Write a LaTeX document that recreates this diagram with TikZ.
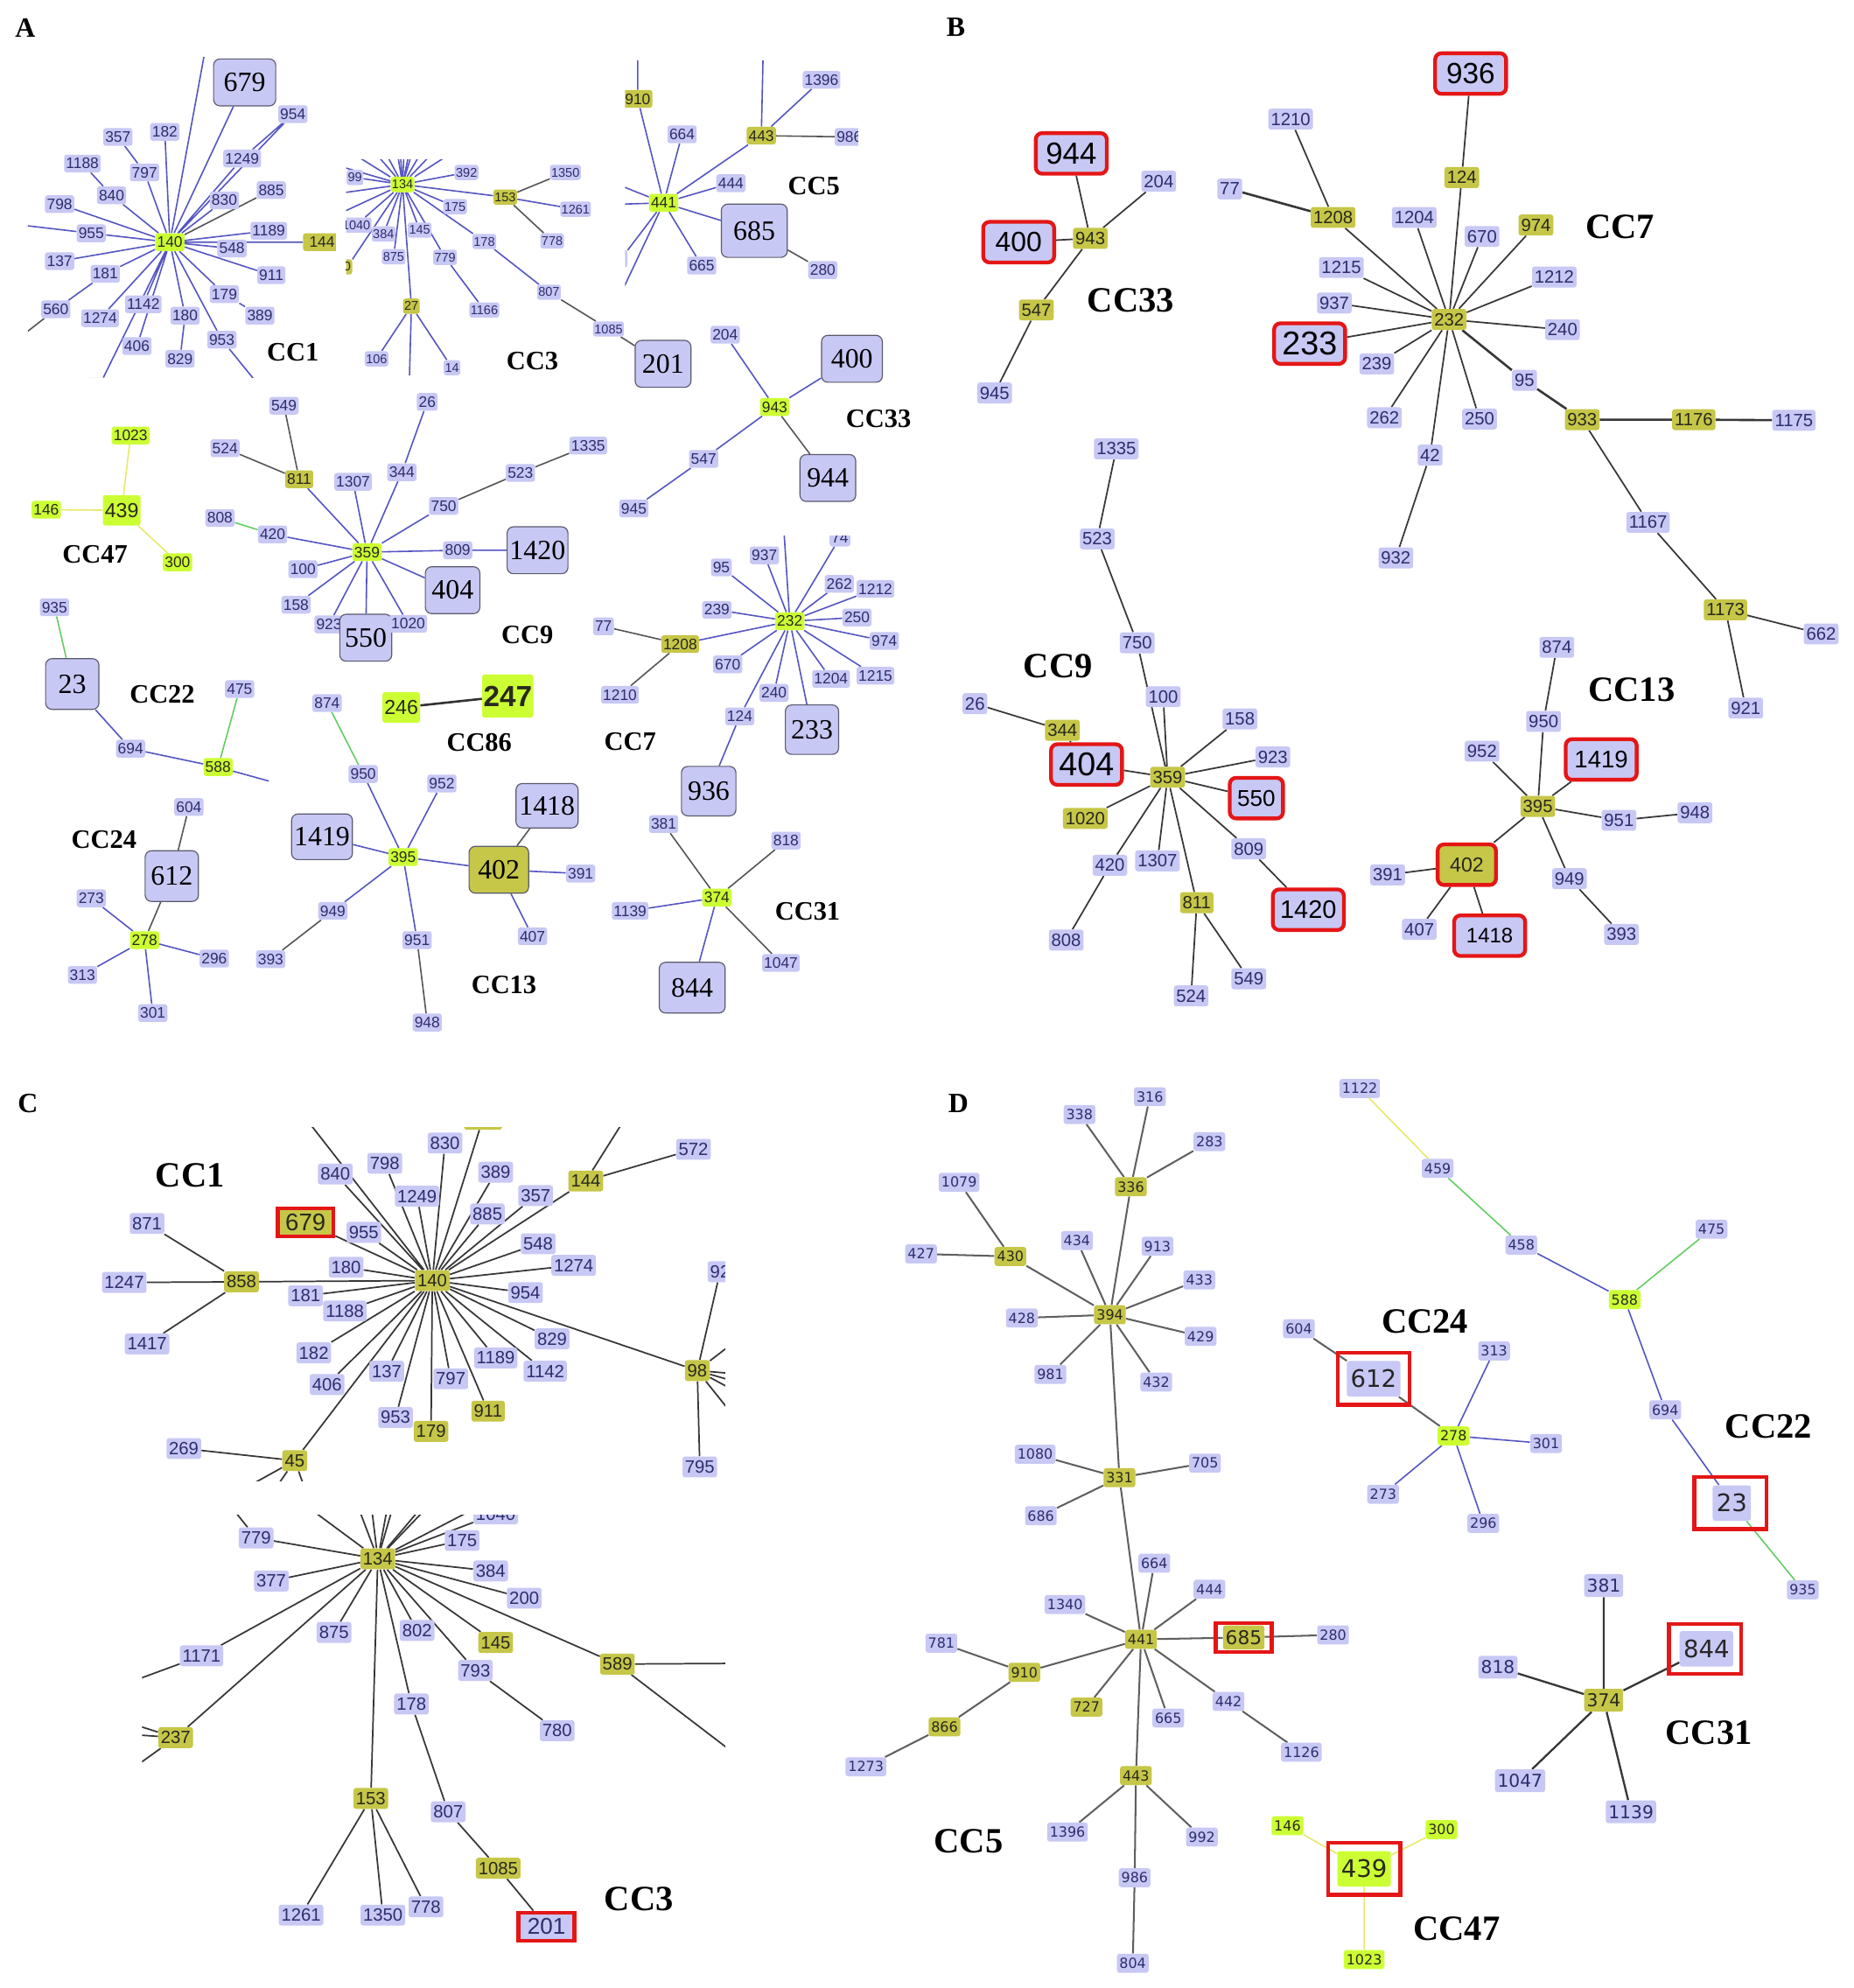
\documentclass[tikz,border=0pt]{standalone}
\usepackage{fontspec}
\setmainfont{Liberation Serif}
\newfontfamily\sansf{Liberation Sans}
\newfontfamily\dejf{DejaVu Sans}
\newcommand\fsz[1]{\fontsize{#1}{#1}\selectfont}
\definecolor{lav}{RGB}{200,200,245}
\definecolor{olv}{RGB}{198,198,72}
\definecolor{lmg}{RGB}{204,255,51}
\definecolor{navyt}{RGB}{45,45,110}
\definecolor{otext}{RGB}{40,40,30}
\definecolor{bgray}{RGB}{90,90,110}
\definecolor{redc}{RGB}{228,22,22}
\definecolor{eblue}{RGB}{85,85,195}
\definecolor{egray}{RGB}{85,85,85}
\definecolor{egreen}{RGB}{100,205,100}
\definecolor{eyellow}{RGB}{232,232,110}
\definecolor{kgray}{RGB}{55,55,55}
\definecolor{dgray}{RGB}{95,95,95}
\pgfdeclarelayer{bgfill}
\pgfdeclarelayer{edges}
\pgfsetlayers{bgfill,edges,main}
\tikzset{
 nd/.style={rounded corners=2pt, inner xsep=1.5pt, inner ysep=1pt},
 la/.style={nd, fill=lav, text=navyt, font=\sansf\fsz{12}, minimum height=14pt},
 ya/.style={la, fill=olv, text=otext},
 ga/.style={la, fill=lmg, text=otext},
 l3/.style={nd, fill=lav, text=navyt, font=\sansf\fsz{10}, minimum height=12pt, inner xsep=1pt},
 y3/.style={l3, fill=olv, text=otext},
 g3/.style={l3, fill=lmg, text=otext},
 bigA/.style={rounded corners=5pt, fill=lav, draw=bgray, line width=0.8pt, font=\fsz{22}, text=black, minimum width=44pt, minimum height=37pt, inner sep=2pt},
 lb/.style={nd, fill=lav, text=navyt, font=\sansf\fsz{14}, minimum height=16.5pt, inner xsep=2pt},
 yb/.style={lb, fill=olv, text=otext},
 rb/.style={lb, draw=redc, line width=3pt, rounded corners=5pt, minimum width=56pt, minimum height=32pt, text=black},
 rc/.style={draw=redc, line width=3pt, fill=lav, text=navyt, font=\sansf\fsz{19}, minimum width=44pt, minimum height=22pt, inner sep=1pt},
 ld/.style={nd, fill=lav, text=navyt, font=\dejf\fsz{11}, minimum height=15pt, inner xsep=2pt},
 yd/.style={ld, fill=olv, text=otext},
 gd/.style={ld, fill=lmg, text=otext},
 ldb/.style={ld, font=\dejf\fsz{19}, minimum height=28pt, inner xsep=3pt, text=black!85},
 rframe/.style={draw=redc, line width=3pt, inner sep=0pt, minimum width=57pt, minimum height=41pt},
 ccA/.style={font=\bfseries\fsz{21}},
 ccB/.style={font=\bfseries\fsz{28}},
 panel/.style={font=\bfseries\fsz{22}},
 eb/.style={draw=eblue, line width=1.1pt},
 eg/.style={draw=egray, line width=1.1pt},
 egr/.style={draw=egreen, line width=1.1pt},
 ey/.style={draw=eyellow, line width=1.1pt},
 ek/.style={draw=kgray, line width=1.2pt},
 ed/.style={draw=dgray, line width=1.4pt},
}
\begin{document}
\begin{tikzpicture}[x=1pt,y=-1pt]
\begin{pgfonlayer}{bgfill}
\fill[white] (0,0) rectangle (1462,1568);
\end{pgfonlayer}
\useasboundingbox (0,0) rectangle (1462,1568);

%================ PANEL A ================
\node[panel] (pA) at (20,22) {A};

% --- CC1 (A)
\begin{scope}
\clip (22,45) rectangle (265,298);
\node[bigA, minimum width=49pt] (a679) at (193,65) {679};
\node[la] (a954) at (231,90) {954};
\node[la] (a357) at (93,108) {357};
\node[la] (a182) at (130,104) {182};
\node[la] (a1188) at (65,129) {1188};
\node[la] (a797) at (114,136) {797};
\node[la] (a1249) at (191,125) {1249};
\node[la] (a840) at (88,154) {840};
\node[la] (a830) at (177,158) {830};
\node[la] (a885) at (214,150) {885};
\node[la] (a798) at (47,161) {798};
\node[la] (a955) at (72,184) {955};
\node[ga] (a140) at (134,191) {140};
\node[la] (a1189) at (212,182) {1189};
\node[la] (a548) at (183,196) {548};
\node[ya, inner xsep=5pt] (a144) at (254,191) {144};
\node[la] (a137) at (47,206) {137};
\node[la] (a181) at (83,216) {181};
\node[la] (a911) at (214,217) {911};
\node[la] (a179) at (177,232) {179};
\node[la] (a560) at (44,244) {560};
\node[la] (a1142) at (113,240) {1142};
\node[la] (a1274) at (79,251) {1274};
\node[la] (a180) at (146,249) {180};
\node[la] (a389) at (205,249) {389};
\node[la] (a406) at (108,273) {406};
\node[la] (a953) at (175,268) {953};
\node[la] (a829) at (142,283) {829};
\node[ya, minimum width=18pt] (acut1) at (78,305) {};
\end{scope}
\begin{pgfonlayer}{edges}\begin{scope}
\clip (22,45) rectangle (265,298);
\coordinate (ae1) at (161,44);
\coordinate (ae2) at (21,178);
\coordinate (ae3) at (21,262);
\coordinate (ae5) at (201,300);
\draw[eb] (a140)--(a679) (a140)--(a954) (a140)--(a1249) (a1249)--(a954) (a140)--(a182)
 (a140)--(a797) (a797)--(a357) (a140)--(a840) (a840)--(a1188) (a140)--(a830)
 (a140)--(a798) (a140)--(a955) (a955)--(ae2) (a140)--(a1189) (a140)--(a548)
 (a140)--(a144) (a140)--(a137) (a140)--(a181) (a181)--(a560) (a140)--(a911)
 (a140)--(a179) (a179)--(a389) (a140)--(a1142) (a140)--(a1274) (a140)--(a180)
 (a180)--(a829) (a140)--(a406) (a140)--(a953) (a953)--(ae5) (a140)--(acut1) (a140)--(ae1);
\draw[eg] (a140)--(a885) (a560)--(ae3);
\end{scope}\end{pgfonlayer}
\node[ccA] (lCC1a) at (231,278) {CC1};

% --- CC3 (A)
\begin{scope}
\clip (273,126) rectangle (560,310);
\node[g3] (a134) at (317.5,145.5) {134};
\node[l3] (a392) at (368,136) {392};
\node[l3] (a99) at (280,140) {99};
\node[y3] (a153) at (398.5,155.5) {153};
\node[l3] (a1350) at (446,136) {1350};
\node[l3] (a1261) at (454,165) {1261};
\node[l3] (a778) at (435.5,190) {778};
\node[l3] (a175) at (359,163) {175};
\node[l3] (a1040) at (281,177.5) {1040};
\node[l3] (a384) at (302.5,184.5) {384};
\node[l3] (a145) at (331,181.5) {145};
\node[l3] (a178) at (382,190.5) {178};
\node[l3] (a875) at (310.5,202.5) {875};
\node[l3] (a779) at (351,203) {779};
\node[y3] (acut2) at (274,210.5) {0};
\node[y3] (a27) at (324.5,241.5) {27};
\node[l3] (a1166) at (382,244.5) {1166};
\node[l3] (a807) at (433,230.5) {807};
\node[l3] (a1085) at (480,259.5) {1085};
\node[bigA] (a201) at (523,287) {201};
\node[l3] (a106) at (297,283) {106};
\node[l3] (a14) at (356.5,290) {14};
\end{scope}
\begin{pgfonlayer}{edges}\begin{scope}
\clip (273,126) rectangle (560,310);
\foreach \xx [count=\i] in {283,299,306,314,316,318.5,322,324,330,338,351}{
 \coordinate (at\i) at (\xx,124);
 \draw[eb] (a134)--(at\i);}
\coordinate (al1) at (271,132);
\coordinate (al2) at (271,152);
\coordinate (al3) at (271,167);
\coordinate (ab27) at (323,296);
\draw[eb] (a134)--(al1) (a134)--(al2) (a134)--(al3) (a134)--(a99) (a134)--(a1040)
 (a134)--(a392) (a134)--(a153) (a134)--(a175) (a134)--(a178) (a134)--(a384)
 (a134)--(a145) (a134)--(a875) (a134)--(a779) (a134)--(a27) (a134)--(acut2)
 (a153)--(a1261) (a178)--(a807) (a779)--(a1166) (a27)--(a106) (a27)--(a14) (a27)--(ab27);
\draw[eg] (a153)--(a1350) (a153)--(a778) (a807)--(a1085) (a1085)--(a201);
\end{scope}\end{pgfonlayer}
\node[ccA] (lCC3a) at (420,285) {CC3};

% --- CC5 (A)
\begin{scope}
\clip (493,48) rectangle (677,228);
\node[ya] (a910) at (503,78) {910};
\node[la] (a664) at (538,106) {664};
\node[ya] (a443) at (600.5,107) {443};
\node[la, minimum width=24pt] (acut3) at (602,40) {};
\node[la] (a1396) at (648,63) {1396};
\node[la] (a986) at (670,108) {986};
\node[la] (a444) at (576.5,144.5) {444};
\node[ga] (a441) at (523.5,160) {441};
\node[bigA, minimum width=52pt, minimum height=42pt] (a685) at (595,182) {685};
\node[la] (a280) at (649,213) {280};
\node[la] (a665) at (553.5,209.5) {665};
\node[la] (acut4) at (490,204) {0};
\end{scope}
\begin{pgfonlayer}{edges}\begin{scope}
\clip (493,48) rectangle (677,228);
\coordinate (a5t) at (503,46);
\coordinate (a5l1) at (491,147);
\coordinate (a5l2) at (491,161);
\coordinate (a5b) at (491,229);
\draw[eb] (a441)--(a910) (a910)--(a5t) (a441)--(a664) (a441)--(a443) (a443)--(acut3)
 (a443)--(a1396) (a441)--(a444) (a441)--(a685) (a441)--(a665) (a441)--(acut4)
 (a441)--(a5l1) (a441)--(a5l2) (a441)--(a5b);
\draw[eg] (a443)--(a986) (a685)--(a280);
\end{scope}\end{pgfonlayer}
\node[ccA] (lCC5a) at (642,147) {CC5};

% --- CC33 (A)
\node[la] (a204) at (572,264) {204};
\node[bigA, minimum width=48pt] (a400) at (672,283) {400};
\node[ga] (a943) at (611,321) {943};
\node[bigA] (a944) at (653,377) {944};
\node[la] (a547) at (555,362) {547};
\node[la] (a945) at (500,401) {945};
\node[ccA] (lCC33a) at (693,330) {CC33};

% --- CC47 (A)
\node[ga] (a1023) at (103,343.5) {1023};
\node[ga] (a146) at (36.5,402) {146};
\node[ga, font=\sansf\fsz{16}, minimum height=24pt] (a439) at (96,402.5) {439};
\node[ga] (a300) at (140,443.5) {300};
\node[ccA] (lCC47a) at (75,437) {CC47};

% --- CC9 (A)
\node[la] (a549) at (224,320) {549};
\node[la] (a26) at (337,317) {26};
\node[la] (a524) at (177.5,353.5) {524};
\node[ya] (a811) at (236,378) {811};
\node[la] (a1307) at (278.5,380) {1307};
\node[la] (a344) at (317,372.5) {344};
\node[la] (a523) at (410.5,373) {523};
\node[la] (a1335) at (464,351.5) {1335};
\node[la] (a750) at (350,399) {750};
\node[la] (a808) at (173.5,408.5) {808};
\node[la] (a420) at (215,421.5) {420};
\node[ga] (a359) at (289.5,435.5) {359};
\node[la] (a809) at (361,434) {809};
\node[bigA] (a1420) at (424,434) {1420};
\node[la] (a100) at (239,449) {100};
\node[bigA, minimum width=43pt] (a404) at (357,465.5) {404};
\node[la] (a158) at (233.5,477) {158};
\node[la] (a923) at (259.5,492.5) {923};
\node[bigA, minimum width=41pt] (a550) at (288.5,503) {550};
\node[la] (a1020) at (322,492) {1020};
\node[ccA] (lCC9a) at (416,501) {CC9};

% --- CC22 (A)
\node[la] (a935) at (43,479) {935};
\node[bigA, minimum width=42pt, minimum height=40pt] (a23) at (57,539.5) {23};
\node[la] (a475) at (189,543.5) {475};
\node[la] (a694) at (103,590.5) {694};
\node[ga] (a588) at (172,605) {588};
\coordinate (ae588) at (212,616);
\node[ccA] (lCC22a) at (128,548) {CC22};

% --- CC86 (A)
\node[ga, font=\sansf\fsz{16}, minimum height=24pt] (a246) at (316.5,558) {246};
\node[ga, font=\sansf\bfseries\fsz{23}, minimum height=34pt, inner xsep=1pt] (a247) at (400.5,549) {247};
\node[ccA] (lCC86a) at (378,585.5) {CC86};

% --- CC13 (A)
\node[la] (a874) at (258,554.5) {874};
\node[la] (a950) at (286.5,610.5) {950};
\node[la] (a952) at (348.5,618) {952};
\node[bigA, minimum width=49pt, minimum height=35pt] (a1418) at (431.5,635.5) {1418};
\node[bigA, minimum width=47pt, minimum height=36pt] (a1419) at (254,660) {1419};
\node[ga] (a395) at (318,676) {395};
\node[bigA, fill=olv, minimum width=47pt] (a402) at (393.5,686) {402};
\node[la] (a391) at (458,689) {391};
\node[la] (a949) at (262.5,718.5) {949};
\node[la] (a407) at (420,738.5) {407};
\node[la] (a951) at (329,741.5) {951};
\node[la] (a393) at (213.5,756.5) {393};
\node[la] (a948) at (337,806.5) {948};
\node[ccA] (lCC13a) at (397.5,776.5) {CC13};

% --- CC24 (A)
\node[la] (a604) at (149,636.5) {604};
\node[bigA, minimum width=42pt, minimum height=40pt] (a612) at (135.5,691) {612};
\node[la] (a273) at (72,708.5) {273};
\node[ga] (a278) at (114,741.5) {278};
\node[la] (a296) at (169,756) {296};
\node[la] (a313) at (65,769) {313};
\node[la] (a301) at (120.5,799) {301};
\node[ccA] (lCC24a) at (82,662) {CC24};

% --- CC31 (A)
\node[la] (a381) at (523.5,650) {381};
\node[la] (a818) at (620,663) {818};
\node[ga] (a374) at (565.5,708) {374};
\node[la] (a1139) at (497,718.5) {1139};
\node[la] (a1047) at (616,759.5) {1047};
\node[bigA, minimum width=52pt, minimum height=40pt] (a844) at (546,779) {844};
\node[ccA] (lCC31a) at (637,718.5) {CC31};

\begin{pgfonlayer}{edges}
\draw[eb] (a943)--(a204) (a943)--(a400) (a943)--(a547) (a547)--(a945);
\draw[eg] (a943)--(a944);
\draw[ey] (a439)--(a1023) (a439)--(a146) (a439)--(a300);
\draw[eb] (a811)--(a359) (a359)--(a1307) (a359)--(a344) (a344)--(a26) (a359)--(a750)
 (a359)--(a420) (a359)--(a809) (a809)--(a1420) (a359)--(a100) (a359)--(a404)
 (a359)--(a158) (a359)--(a923) (a359)--(a550) (a359)--(a1020);
\draw[eg] (a811)--(a549) (a811)--(a524) (a750)--(a523) (a523)--(a1335);
\draw[egr] (a420)--(a808);
\draw[egr] (a935)--(a23) (a588)--(a475);
\draw[eb] (a23)--(a694) (a694)--(a588) (a588)--(ae588);
\draw[draw=black!80, line width=1.8pt] (a246)--(a247);
\draw[egr] (a874)--(a950);
\draw[eb] (a950)--(a395) (a952)--(a395) (a1419)--(a395) (a395)--(a402) (a402)--(a391)
 (a402)--(a407) (a395)--(a949) (a395)--(a951);
\draw[eg] (a402)--(a1418) (a949)--(a393) (a951)--(a948);
\draw[eg] (a604)--(a612) (a612)--(a278);
\draw[eb] (a278)--(a273) (a278)--(a296) (a278)--(a313) (a278)--(a301);
\draw[eg] (a374)--(a381) (a374)--(a818) (a374)--(a1047);
\draw[eb] (a374)--(a1139) (a374)--(a844);
\end{pgfonlayer}

% --- CC7 (A)
\begin{scope}
\clip (455,423) rectangle (730,665);
\node[la] (a937) at (603,438) {937};
\node[la] (a95) at (569,447.5) {95};
\node[la] (a74) at (662.5,424) {74};
\node[la] (a262) at (662,460.5) {262};
\node[la] (a1212) at (690.5,464.5) {1212};
\node[la] (a239) at (565.5,481) {239};
\node[ga] (a232) at (623,490) {232};
\node[la] (a250) at (676,487) {250};
\node[la] (a77) at (476,494) {77};
\node[la] (a974) at (697.5,505.5) {974};
\node[ya] (a1208) at (536.5,508) {1208};
\node[la] (a670) at (574,524) {670};
\node[la] (a1204) at (655.5,535.5) {1204};
\node[la] (a1215) at (690.5,533) {1215};
\node[la] (a1210) at (489,548) {1210};
\node[la] (a240) at (610.5,546.5) {240};
\node[la] (a124) at (583.5,565) {124};
\node[bigA, minimum width=42pt, minimum height=39pt] (a233) at (640.5,575.5) {233};
\node[bigA, minimum width=43pt, minimum height=39pt] (a936) at (559,624) {936};
\end{scope}
\begin{pgfonlayer}{edges}\begin{scope}
\clip (455,423) rectangle (730,665);
\coordinate (ae232) at (618.5,421);
\draw[eb] (a232)--(a937) (a232)--(a95) (a232)--(a74) (a232)--(ae232) (a232)--(a262)
 (a232)--(a1212) (a232)--(a239) (a232)--(a250) (a232)--(a974) (a232)--(a1208)
 (a232)--(a670) (a232)--(a1204) (a232)--(a1215) (a232)--(a240) (a232)--(a124)
 (a232)--(a233) (a124)--(a936);
\draw[eg] (a1208)--(a77) (a1208)--(a1210);
\end{scope}\end{pgfonlayer}
\node[ccA] (lCC7a) at (497,585) {CC7};

%================ PANEL B ================
\node[panel] (pB) at (754,21.5) {B};
% CC33
\node[rb, font=\sansf\fsz{24}] (b944) at (845,121) {944};
\node[lb] (b204) at (914,143) {204};
\node[rb, font=\sansf\fsz{22}] (b400) at (803.5,191) {400};
\node[yb] (b943) at (860,188) {943};
\node[yb] (b547) at (817.5,244.5) {547};
\node[lb] (b945) at (784.5,310) {945};
\node[ccB] (lCC33b) at (892,237) {CC33};
% CC7
\node[rb, font=\sansf\fsz{23}] (b936) at (1160,58) {936};
\node[lb] (b1210) at (1018,94) {1210};
\node[yb] (b124) at (1153,140) {124};
\node[lb] (b77) at (970,149) {77};
\node[yb] (b1208) at (1051.5,171.5) {1208};
\node[lb] (b1204) at (1115.5,171.5) {1204};
\node[yb] (b974) at (1211.5,177.5) {974};
\node[lb] (b670) at (1169,186.5) {670};
\node[lb] (b1215) at (1058,211) {1215};
\node[lb] (b1212) at (1226,218.5) {1212};
\node[lb] (b937) at (1052.5,239) {937};
\node[yb] (b232) at (1143,252) {232};
\node[lb] (b240) at (1232.5,260) {240};
\node[rb, font=\sansf\fsz{26}] (b233) at (1033,271) {233};
\node[lb] (b239) at (1086,287) {239};
\node[lb] (b95) at (1202.5,300) {95};
\node[lb] (b262) at (1092,329.5) {262};
\node[lb] (b250) at (1167,330.5) {250};
\node[yb] (b933) at (1248,331) {933};
\node[yb] (b1176) at (1336,331) {1176};
\node[lb] (b1175) at (1415,331.5) {1175};
\node[lb] (b42) at (1128,359) {42};
\node[lb] (b1167) at (1300,412) {1167};
\node[lb] (b932) at (1101,440) {932};
\node[yb] (b1173) at (1361,481) {1173};
\node[lb] (b662) at (1436.5,500) {662};
\node[lb] (b921) at (1377,558.5) {921};
\node[ccB] (lCC7b) at (1278,179) {CC7};
% CC9
\node[lb] (b1335) at (880.5,354) {1335};
\node[lb] (b523) at (865.5,425) {523};
\node[lb] (b750) at (897,507) {750};
\node[lb] (b100) at (917.5,549.5) {100};
\node[lb] (b26) at (769,555) {26};
\node[lb] (b158) at (978,567) {158};
\node[yb] (b344) at (838,576) {344};
\node[lb] (b923) at (1004,597) {923};
\node[rb, font=\sansf\fsz{26}] (b404) at (857,603) {404};
\node[yb] (b359) at (921,613) {359};
\node[rb, font=\sansf\fsz{18}, minimum width=42pt] (b550) at (991,629.5) {550};
\node[yb] (b1020) at (856,645.5) {1020};
\node[lb] (b809) at (985,669.5) {809};
\node[lb] (b1307) at (913,679) {1307};
\node[lb] (b420) at (875.5,682.5) {420};
\node[yb] (b811) at (944,712) {811};
\node[rb, font=\sansf\fsz{20}] (b1420) at (1032,717.5) {1420};
\node[lb] (b808) at (841,741.5) {808};
\node[lb] (b549) at (985,772) {549};
\node[lb] (b524) at (939.5,785.5) {524};
\node[ccB] (lCC9b) at (834.5,525.5) {CC9};
% CC13
\node[lb] (b874) at (1228,510.5) {874};
\node[lb] (b950) at (1217.5,569) {950};
\node[lb] (b952) at (1169,592.5) {952};
\node[rb, font=\sansf\fsz{19}] (b1419) at (1263,599) {1419};
\node[yb] (b395) at (1213,636) {395};
\node[lb] (b951) at (1277,647) {951};
\node[lb] (b948) at (1337,641) {948};
\node[rb, fill=olv, text=otext, font=\sansf\fsz{16}, minimum width=46pt] (b402) at (1157,682) {402};
\node[lb] (b391) at (1094.5,690) {391};
\node[lb] (b949) at (1238,693) {949};
\node[lb] (b407) at (1119.5,733) {407};
\node[rb, font=\sansf\fsz{16.5}] (b1418) at (1175,738) {1418};
\node[lb] (b393) at (1279,737) {393};
\node[ccB] (lCC13b) at (1287,544) {CC13};

\begin{pgfonlayer}{edges}
\draw[ek] (b943)--(b944) (b943)--(b400) (b943)--(b204) (b943)--(b547) (b547)--(b945);
\draw[ek] (b232)--(b1208) (b232)--(b1204) (b232)--(b670) (b232)--(b974) (b232)--(b124)
 (b232)--(b1215) (b232)--(b1212) (b232)--(b937) (b232)--(b233) (b232)--(b240)
 (b232)--(b239) (b232)--(b262) (b232)--(b250) (b232)--(b42) (b1208)--(b1210)
 (b124)--(b936) (b933)--(b1167) (b1167)--(b1173) (b1173)--(b662) (b1173)--(b921) (b42)--(b932);
\draw[ek, line width=1.8pt] (b1208)--(b77) (b232)--(b95) (b95)--(b933) (b933)--(b1176) (b1176)--(b1175);
\draw[ek] (b1335)--(b523) (b523)--(b750) (b750)--(b359) (b100)--(b359) (b26)--(b344)
 (b344)--(b404) (b404)--(b359) (b158)--(b359) (b923)--(b359) (b550)--(b359) (b1020)--(b359)
 (b420)--(b359) (b420)--(b808) (b1307)--(b359) (b809)--(b359) (b809)--(b1420)
 (b811)--(b359) (b811)--(b524) (b811)--(b549);
\draw[ek] (b874)--(b950) (b950)--(b395) (b952)--(b395) (b1419)--(b395) (b395)--(b951)
 (b951)--(b948) (b395)--(b402) (b402)--(b391) (b402)--(b407) (b402)--(b1418)
 (b395)--(b949) (b949)--(b393);
\end{pgfonlayer}

%================ PANEL C ================
\node[panel] (pC) at (22,870) {C};
\begin{scope}
\clip (10,889) rectangle (572,1168);
\node[lb] (c830) at (351,901.5) {830};
\node[yb, minimum width=30pt, minimum height=18pt] (ccut1) at (381,882) {};
\node[lb] (c572) at (547,906.5) {572};
\node[lb] (c840) at (264.5,926) {840};
\node[lb] (c798) at (303.5,917.5) {798};
\node[lb] (c389) at (391,924.5) {389};
\node[yb] (c144) at (462,931.5) {144};
\node[lb] (c1249) at (329,943.5) {1249};
\node[lb] (c357) at (422.5,943) {357};
\node[lb] (c871) at (116,965) {871};
\node[rc, fill=olv, text=otext] (c679) at (241,964) {679};
\node[lb] (c885) at (384.5,957.5) {885};
\node[lb] (c955) at (287,972) {955};
\node[lb] (c548) at (424.5,981) {548};
\node[lb] (c180) at (273,999.5) {180};
\node[lb] (c1274) at (452.5,998) {1274};
\node[lb] (c1247) at (98,1011.5) {1247};
\node[yb] (c858) at (190.5,1011) {858};
\node[yb] (c140) at (341,1010) {140};
\node[lb] (c92) at (568,1003) {92};
\node[lb] (c181) at (241,1022) {181};
\node[lb] (c954) at (414.5,1019.5) {954};
\node[lb] (c1188) at (272,1034) {1188};
\node[lb] (c829) at (435.5,1056) {829};
\node[lb] (c1417) at (116,1060) {1417};
\node[lb] (c182) at (247.5,1067) {182};
\node[lb] (c1189) at (391,1071) {1189};
\node[lb] (c1142) at (430,1081.5) {1142};
\node[yb] (c98) at (550,1081) {98};
\node[lb] (c137) at (305,1081.5) {137};
\node[lb] (c797) at (355.5,1087.5) {797};
\node[lb] (c406) at (258,1092) {406};
\node[yb] (c911) at (385,1113) {911};
\node[lb] (c953) at (312,1118) {953};
\node[yb] (c179) at (340,1129) {179};
\node[lb] (c269) at (145,1142.5) {269};
\node[yb] (c45) at (232.5,1152) {45};
\node[lb] (c795) at (552,1157) {795};
\end{scope}
\begin{pgfonlayer}{edges}\begin{scope}
\clip (10,889) rectangle (572,1168);
\coordinate (ct1) at (245,887);
\coordinate (ct2) at (490,887);
\coordinate (cr1) at (574,1062.5);
\coordinate (cr2) at (574,1083);
\coordinate (cr3) at (574,1088);
\coordinate (cr4) at (574,1094);
\coordinate (cr5) at (574,1111);
\coordinate (cb1) at (200,1170);
\coordinate (cb2) at (220,1170);
\coordinate (cb3) at (239,1170);
\draw[ek] (c140)--(ct1) (c140)--(c840) (c140)--(c798) (c140)--(c1249) (c140)--(c830)
 (c140)--(ccut1) (c140)--(c389) (c140)--(c885) (c140)--(c357) (c140)--(c144)
 (c140)--(c548) (c140)--(c1274) (c140)--(c954) (c140)--(c829) (c140)--(c1142)
 (c140)--(c1189) (c140)--(c98) (c140)--(c911) (c140)--(c797) (c140)--(c179)
 (c140)--(c953) (c140)--(c137) (c140)--(c406) (c140)--(c45) (c140)--(c182)
 (c140)--(c1188) (c140)--(c181) (c140)--(c858) (c140)--(c180) (c140)--(c955)
 (c140)--(c679) (c858)--(c871) (c858)--(c1247) (c858)--(c1417) (c144)--(c572)
 (c144)--(ct2) (c98)--(c92) (c98)--(c795) (c98)--(cr1) (c98)--(cr2) (c98)--(cr3)
 (c98)--(cr4) (c98)--(cr5) (c45)--(c269) (c45)--(cb1) (c45)--(cb2) (c45)--(cb3);
\end{scope}\end{pgfonlayer}
\node[ccB] (lCC1c) at (150,927) {CC1};

\begin{scope}
\clip (112,1195) rectangle (572,1568);
\node[lb] (c1040) at (391,1194) {1040};
\node[lb] (c779) at (202,1213) {779};
\node[lb] (c175) at (364.5,1215) {175};
\node[yb] (c134) at (298,1229.5) {134};
\node[lb] (c384) at (387,1239) {384};
\node[lb] (c377) at (214,1247) {377};
\node[lb] (c200) at (413.5,1260.5) {200};
\node[lb] (c875) at (263.5,1287.5) {875};
\node[lb] (c802) at (329,1286) {802};
\node[yb] (c145) at (391,1295.5) {145};
\node[lb] (c1171) at (159,1306) {1171};
\node[yb] (c589) at (487,1312.5) {589};
\node[lb] (c793) at (375,1317.5) {793};
\node[lb] (c178) at (324.5,1344) {178};
\node[lb] (c780) at (439.5,1365) {780};
\node[yb] (c237) at (138.5,1370.5) {237};
\node[yb] (c153) at (292.5,1418.5) {153};
\node[lb] (c807) at (353.5,1429) {807};
\node[yb] (c1085) at (393,1473.5) {1085};
\node[lb] (c1261) at (237.5,1510.5) {1261};
\node[lb] (c1350) at (302,1510.5) {1350};
\node[lb] (c778) at (336,1504) {778};
\node[rc, font=\sansf\fsz{18}] (c201) at (431,1519.5) {201};
\end{scope}
\begin{pgfonlayer}{edges}\begin{scope}
\clip (112,1195) rectangle (572,1568);
\foreach \xx [count=\i] in {248.7,284.2,293.6,304.8,308.6,329,333,368.4}{
 \coordinate (cu\i) at (\xx,1193);
 \draw[ek] (c134)--(cu\i);}
\coordinate (c779t) at (186,1193);
\coordinate (c1171l) at (110,1324);
\coordinate (c589r1) at (574,1312);
\coordinate (c589r2) at (574,1379);
\coordinate (c237l1) at (110,1361.5);
\coordinate (c237l2) at (110,1368.5);
\coordinate (c237l3) at (110,1391);
\draw[ek] (c134)--(c1040) (c134)--(c779) (c779)--(c779t) (c134)--(c175) (c134)--(c384)
 (c134)--(c200) (c134)--(c377) (c134)--(c875) (c134)--(c802) (c134)--(c145)
 (c134)--(c793) (c793)--(c780) (c134)--(c589) (c589)--(c589r1) (c589)--(c589r2)
 (c134)--(c1171) (c1171)--(c1171l) (c134)--(c237) (c237)--(c237l1) (c237)--(c237l2)
 (c237)--(c237l3) (c134)--(c153) (c153)--(c1261) (c153)--(c1350) (c153)--(c778)
 (c134)--(c178) (c178)--(c807) (c807)--(c1085) (c1085)--(c201);
\end{scope}\end{pgfonlayer}
\node[ccB] (lCC3c) at (504,1498) {CC3};

%================ PANEL D ================
\node[panel] (pD) at (756,870) {D};
% CC5
\node[ld] (d338) at (851.5,879) {338};
\node[ld] (d316) at (907,865) {316};
\node[ld] (d283) at (954,900.5) {283};
\node[ld] (d1079) at (756.5,932.5) {1079};
\node[yd] (d336) at (892,936) {336};
\node[ld] (d434) at (849.5,978.5) {434};
\node[ld] (d913) at (913,983) {913};
\node[ld] (d427) at (726.5,989) {427};
\node[yd] (d430) at (797,991) {430};
\node[ld] (d433) at (946,1009.5) {433};
\node[ld] (d428) at (806,1039.5) {428};
\node[yd] (d394) at (875.5,1037) {394};
\node[ld] (d429) at (947,1054) {429};
\node[ld] (d981) at (828.5,1084) {981};
\node[ld] (d432) at (912,1090) {432};
\node[ld] (d1080) at (816.5,1147) {1080};
\node[ld] (d705) at (950.5,1154) {705};
\node[yd] (d331) at (883,1165.5) {331};
\node[ld] (d686) at (821,1195.5) {686};
\node[ld] (d664) at (910.5,1233) {664};
\node[ld] (d444) at (954,1253.5) {444};
\node[ld] (d1340) at (840,1265.5) {1340};
\node[yd] (d441) at (900,1293) {441};
\node[rframe, minimum width=44pt, minimum height=23pt] (d685f) at (981,1291.5) {};
\node[yd, font=\dejf\fsz{15}, minimum height=19pt] (d685) at (981,1291.5) {685};
\node[ld] (d280) at (1051.5,1289.5) {280};
\node[ld] (d781) at (742.5,1296) {781};
\node[yd] (d910) at (808,1319) {910};
\node[yd] (d727) at (857,1346.5) {727};
\node[ld] (d665) at (921.5,1355) {665};
\node[ld] (d442) at (969,1342) {442};
\node[yd] (d866) at (745,1362) {866};
\node[ld] (d1126) at (1026.5,1382) {1126};
\node[ld] (d1273) at (683,1393.5) {1273};
\node[yd] (d443) at (896,1400.5) {443};
\node[ld] (d1396) at (842,1445) {1396};
\node[ld] (d992) at (948,1449) {992};
\node[ld] (d986) at (895,1481) {986};
\node[ld] (d804) at (893.5,1548.5) {804};
\node[ccB] (lCC5d) at (764,1452) {CC5};
% CC22
\node[ld] (d1122) at (1072.5,858.5) {1122};
\node[ld] (d459) at (1134,921.5) {459};
\node[ld] (d458) at (1200,982) {458};
\node[ld] (d475) at (1350,969.5) {475};
\node[gd] (d588) at (1281.5,1025) {588};
\node[ld] (d694) at (1313.5,1112) {694};
\node[rframe] (d23f) at (1365,1185.5) {};
\node[ldb] (d23) at (1366,1185.5) {23};
\node[ld] (d935) at (1422,1254) {935};
\node[ccB] (lCC22d) at (1395,1125) {CC22};
% CC24
\node[ld] (d604) at (1024.5,1048) {604};
\node[rframe] (d612f) at (1083.5,1087.5) {};
\node[ldb] (d612) at (1083.5,1087.5) {612};
\node[ld] (d313) at (1178.5,1065.5) {313};
\node[gd] (d278) at (1146.5,1132.5) {278};
\node[ld] (d301) at (1219.5,1138.5) {301};
\node[ld] (d273) at (1091,1178.5) {273};
\node[ld] (d296) at (1170,1201.5) {296};
\node[ccB] (lCC24d) at (1124,1042) {CC24};
% CC31
\node[ld, font=\dejf\fsz{14}, minimum height=18pt] (d381) at (1265,1250.5) {381};
\node[rframe, minimum height=39pt] (d844f) at (1345,1300.5) {};
\node[ldb] (d844) at (1346,1300.5) {844};
\node[ld, font=\dejf\fsz{14}, minimum height=18pt] (d818) at (1181.5,1315) {818};
\node[yd, font=\dejf\fsz{14}, minimum height=18pt] (d374) at (1265,1341) {374};
\node[ld, font=\dejf\fsz{14}, minimum height=18pt] (d1047) at (1199,1404.5) {1047};
\node[ld, font=\dejf\fsz{14}, minimum height=18pt] (d1139) at (1286.5,1429) {1139};
\node[ccB] (lCC31d) at (1348,1366.5) {CC31};
% CC47
\node[gd] (d146) at (1015.5,1440) {146};
\node[gd] (d300) at (1137,1443) {300};
\node[rframe] (d439f) at (1076,1474) {};
\node[ldb, fill=lmg, text=otext] (d439) at (1076,1474) {439};
\node[gd] (d1023) at (1076,1545.5) {1023};
\node[ccB] (lCC47d) at (1149,1521.5) {CC47};

\begin{pgfonlayer}{edges}
\draw[ed] (d336)--(d338) (d336)--(d316) (d336)--(d283) (d336)--(d394) (d394)--(d434)
 (d394)--(d913) (d394)--(d433) (d394)--(d428) (d394)--(d429) (d394)--(d981)
 (d394)--(d432) (d394)--(d430) (d430)--(d1079) (d430)--(d427) (d394)--(d331)
 (d331)--(d1080) (d331)--(d705) (d331)--(d686) (d331)--(d441) (d441)--(d664)
 (d441)--(d444) (d441)--(d1340) (d441)--(d685) (d685)--(d280) (d441)--(d910)
 (d910)--(d781) (d910)--(d866) (d866)--(d1273) (d441)--(d727) (d441)--(d665)
 (d441)--(d442) (d442)--(d1126) (d441)--(d443) (d443)--(d1396) (d443)--(d992)
 (d443)--(d986) (d986)--(d804);
\draw[ey] (d1122)--(d459);
\draw[egr] (d459)--(d458) (d588)--(d475) (d23)--(d935);
\draw[eb] (d458)--(d588) (d588)--(d694) (d694)--(d23);
\draw[ed] (d604)--(d612) (d612)--(d278);
\draw[eb] (d278)--(d313) (d278)--(d301) (d278)--(d273) (d278)--(d296);
\draw[ek, line width=1.6pt] (d374)--(d381) (d374)--(d844) (d374)--(d818) (d374)--(d1047) (d374)--(d1139);
\draw[ey] (d439)--(d146) (d439)--(d300) (d439)--(d1023);
\end{pgfonlayer}
\end{tikzpicture}
\end{document}
